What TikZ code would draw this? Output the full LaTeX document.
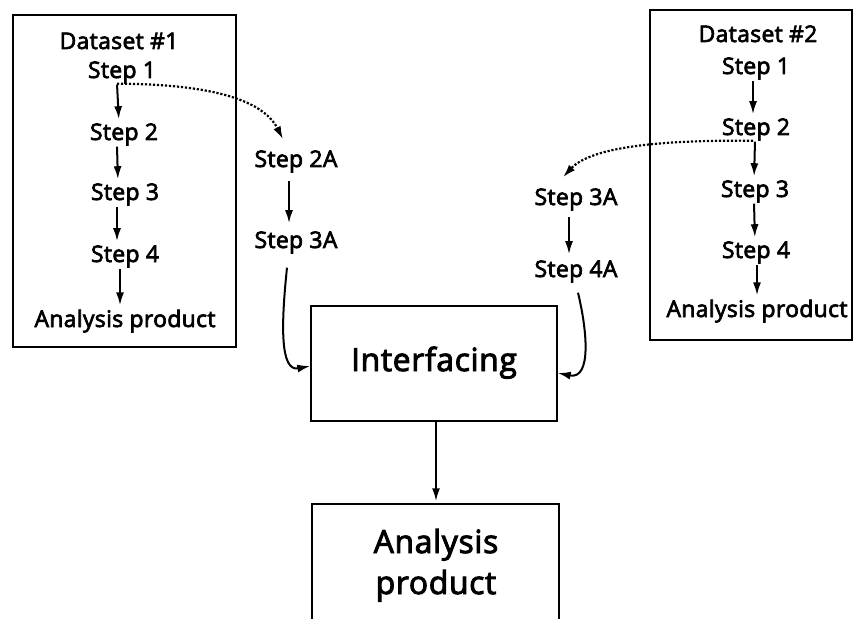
\documentclass[tikz,border=0pt]{standalone}
\usepackage{fontspec}
\setmainfont{Open Sans}[FakeBold=3]
\usetikzlibrary{arrows.meta,calc}

\begin{document}
\begin{tikzpicture}[x=1bp,y=-1bp,
  lbl/.style={font=\fontsize{23}{27}\selectfont\addfontfeature{LetterSpace=1.5}, inner sep=0pt, anchor=base},
  big/.style={font=\fontsize{32}{37}\selectfont\addfontfeature{LetterSpace=2}, inner sep=0pt, anchor=base},
  box/.style={draw, line width=1.4bp, inner sep=0pt},
  arr/.style={line width=2bp, -{Latex[length=13bp,width=8bp]}},
  dotarr/.style={line width=2.2bp, dash pattern=on 2.2bp off 1.8bp, -{Latex[length=13bp,width=8bp]}},
]
\useasboundingbox (0,0) rectangle (858,619);
\clip (0,0) rectangle (858,619);

% dataset frames
\node[box, minimum width=223bp, minimum height=332bp] (ds1) at (124.5,181) {};
\node[box, minimum width=202bp, minimum height=330bp] (ds2) at (751,175) {};

% dataset 1 chain
\node[lbl] (d1t) at (119,49) {Dataset \#1};
\node[lbl] (d1s1) at (122,78) {Step 1};
\node[lbl] (d1s2) at (124,140) {Step 2};
\node[lbl] (d1s3) at (125,200) {Step 3};
\node[lbl] (d1s4) at (125,262) {Step 4};
\node[lbl] (d1ap) at (125,327) {Analysis product};

% dataset 2 chain
\node[lbl] (d2t) at (758,42) {Dataset \#2};
\node[lbl] (d2s1) at (756,74) {Step 1};
\node[lbl] (d2s2) at (756,135) {Step 2};
\node[lbl] (d2s3) at (755,197) {Step 3};
\node[lbl] (d2s4) at (756,258) {Step 4};
\node[lbl] (d2ap) at (757,317) {Analysis product};

% branch steps
\node[lbl] (s2a) at (296,167) {Step 2A};
\node[lbl] (s3a) at (296,248) {Step 3A};
\node[lbl] (r3a) at (576,205) {Step 3A};
\node[lbl] (r4a) at (576,277) {Step 4A};

% merge and result
\node[box, minimum width=246bp, minimum height=115bp] (ifc) at (434,363.5) {};
\node[big] (ifct) at (434,371) {Interfacing};
\node[box, minimum width=247bp, minimum height=160bp] (apb) at (435.5,584) {};
\node[big] (apt1) at (436,553) {Analysis};
\node[big] (apt2) at (436,594) {product};

% dataset 1 arrows
\draw[arr, shorten <=1bp, shorten >=4bp] ([xshift=-5bp]d1s1.south) -- ([xshift=-5bp]d1s2.north);
\draw[arr, shorten <=1bp, shorten >=4bp] ([xshift=-7bp]d1s2.south) -- ([xshift=-7bp]d1s3.north);
\draw[arr, shorten <=1bp, shorten >=4bp] ([xshift=-8bp]d1s3.south) -- ([xshift=-8bp]d1s4.north);
\draw[arr, shorten <=1bp, shorten >=4bp] ([xshift=-5bp]d1s4.south) -- ([xshift=-5bp]d1s4.south |- d1ap.north);

% dataset 2 arrows
\draw[arr, shorten <=1bp, shorten >=4bp] ([xshift=-3bp]d2s1.south) -- ([xshift=-3bp]d2s2.north);
\draw[arr, shorten <=1bp, shorten >=4bp] ([xshift=-1bp]d2s2.south) -- ([xshift=-1bp]d2s3.north);
\draw[arr, shorten <=1bp, shorten >=4bp] ([xshift=-1bp]d2s3.south) -- ([xshift=-1bp]d2s4.north);
\draw[arr, shorten <=1bp, shorten >=4bp] ([xshift=1bp]d2s4.south) -- ([xshift=1bp]d2s4.south |- d2ap.north);

% branch arrows
\draw[arr, shorten <=8bp, shorten >=8bp] ([xshift=-7bp]s2a.south) -- ([xshift=-7bp]s3a.north);
\draw[arr, shorten <=6bp, shorten >=6bp] ([xshift=-7bp]r3a.south) -- ([xshift=-7bp]r4a.north);

% dotted hand-offs
\draw[dotarr] ([xshift=-5bp]d1s1.south) .. controls (205,84) and (262,98) .. ([xshift=-13bp,yshift=11bp]s2a.north);
\draw[dotarr] ([xshift=-3bp]d2s2.south) .. controls (665,140) and (592,146) .. ([xshift=-13bp,yshift=11bp]r3a.north);

% into and out of the interfacing step
\draw[arr] ([xshift=-9bp,yshift=-14bp]s3a.south) .. controls (281,325) and (280,372) .. ([yshift=-2.5bp]ifc.west);
\draw[arr] ([xshift=2bp,yshift=-10bp]r4a.south) .. controls (587,330) and (592,380) .. ([yshift=-9.5bp]ifc.east);
\draw[arr, shorten >=2bp] ([xshift=2bp]ifc.south) -- ([xshift=2bp]ifc.south |- apb.north);
\end{tikzpicture}
\end{document}
